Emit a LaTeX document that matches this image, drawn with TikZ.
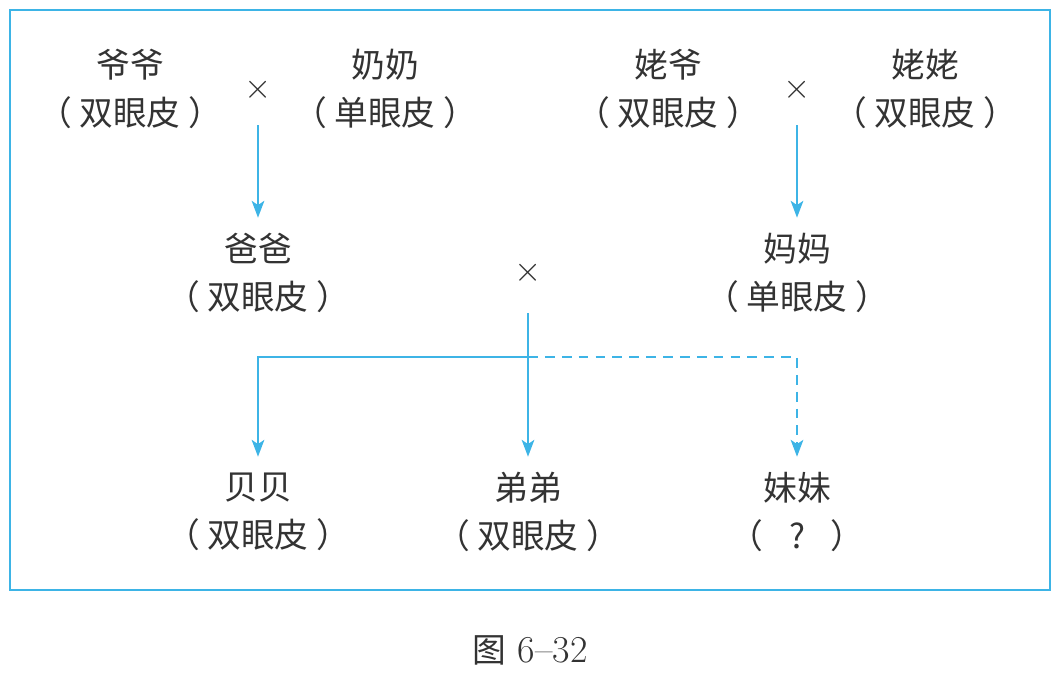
\documentclass[tikz,border=0pt]{standalone}
\usepackage{fontspec}
\usepackage{xcolor}
\usepackage{tikz}
\usetikzlibrary{arrows.meta}
\newfontfamily\cjk{Noto Sans CJK SC}
\definecolor{linecyan}{HTML}{3DB4E6}
\definecolor{inkgray}{HTML}{333333}

\begin{document}
\begin{tikzpicture}[x=0.025cm, y=-0.025cm,
        person/.style={align=center, text=inkgray, inner sep=0pt, minimum height=2.75cm,
            font=\cjk\fontsize{24}{34}\selectfont},
        cross/.style={text=inkgray, inner sep=0pt, minimum height=1.75cm, font=\fontsize{25}{25}\selectfont},
        link/.style={draw=linecyan, line width=1.3pt, -{Stealth[length=12pt, width=9pt, inset=3pt]}}]
        \useasboundingbox (0,0) rectangle (1062,678);
        \draw[linecyan, line width=1.3pt] (10,10) rectangle (1050,590);

        \node[person] (ye) at (130,89) {爷爷\\（ 双眼皮 ）};
        \node[person] (nai) at (385,89) {奶奶\\（ 单眼皮 ）};
        \node[person] (laoye) at (668,89) {姥爷\\（ 双眼皮 ）};
        \node[person] (laolao) at (925,89) {姥姥\\（ 双眼皮 ）};
        \node[cross] (x1) at (258,90) {$\times$};
        \node[cross] (x2) at (797,90) {$\times$};

        \node[person] (ba) at (258,273) {爸爸\\（ 双眼皮 ）};
        \node[person] (ma) at (797,273) {妈妈\\（ 单眼皮 ）};
        \node[cross, minimum height=2cm] (x3) at (528,273) {$\times$};

        \node[person] (beibei) at (258,512) {贝贝\\（ 双眼皮 ）};
        \node[person] (didi) at (528,512) {弟弟\\（ 双眼皮 ）};
        \node[person] (meimei) at (797,512) {妹妹\\（\hspace{0.75em}?\hspace{0.75em}）};
        \coordinate (split) at (528,357);

        \draw[link] (x1) -- (ba);
        \draw[link] (x2) -- (ma);
        \draw[link] (x3) -- (didi);
        \draw[link] (split) -| (beibei);
        \draw[link, dash pattern=on 7pt off 5pt] (split) -| (meimei);

        \node[text=inkgray, font=\fontsize{27}{27}\selectfont] (caption) at (530,650) {{\cjk\fontsize{24}{24}\selectfont 图}\ 6--32};
    \end{tikzpicture}
\end{document}
